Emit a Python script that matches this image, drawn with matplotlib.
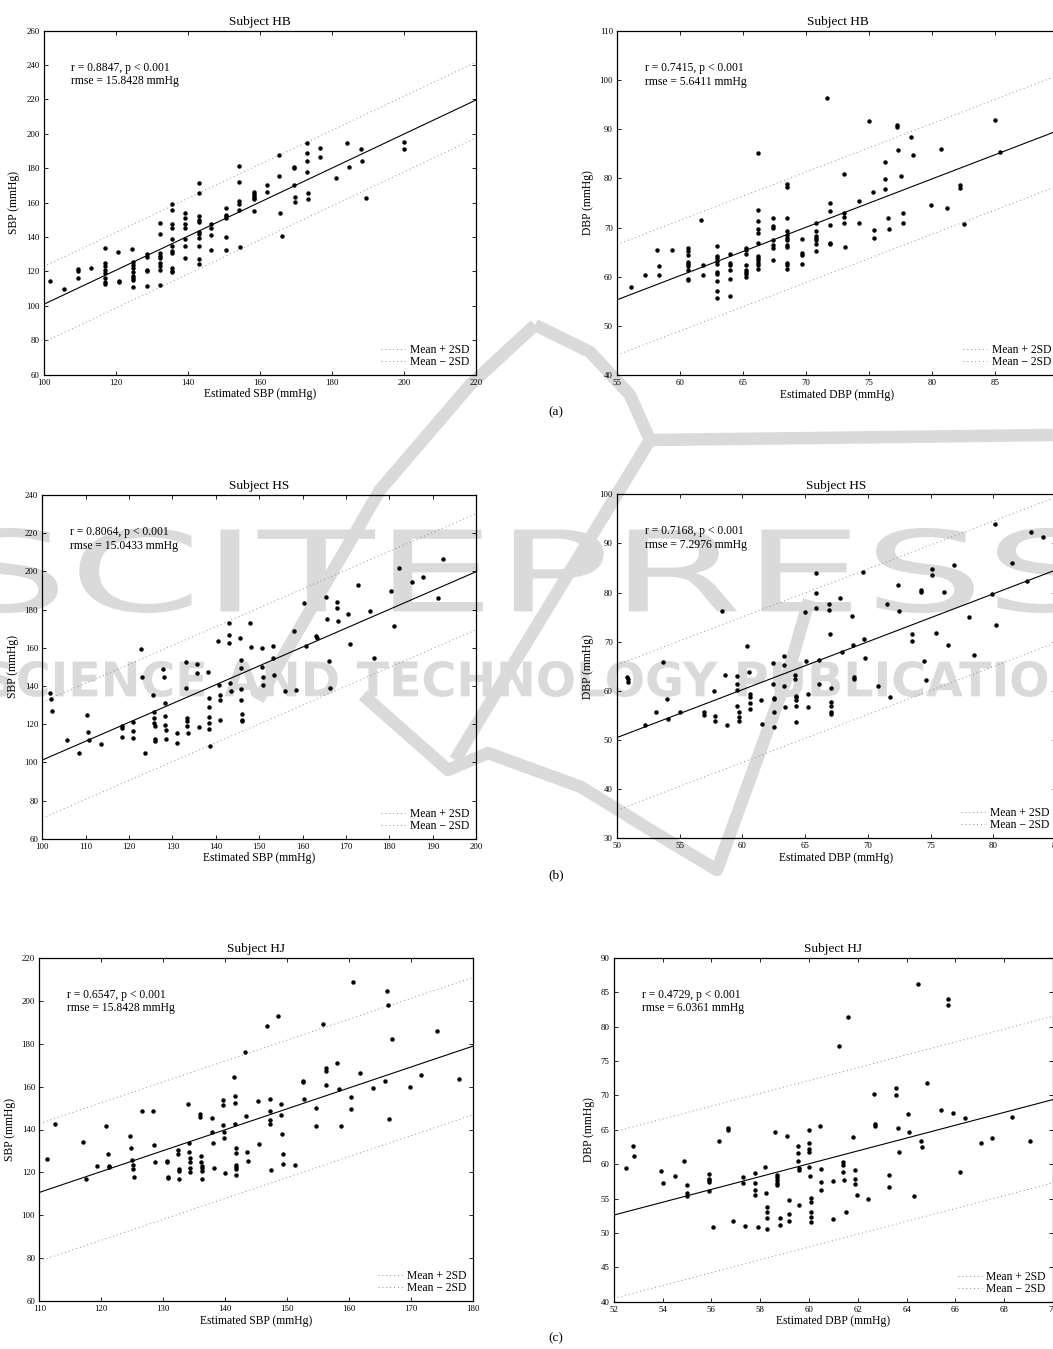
import numpy as np
import matplotlib
matplotlib.use("Agg")
import matplotlib.pyplot as plt
from matplotlib.textpath import TextPath
from matplotlib.patches import PathPatch
from matplotlib.path import Path
from matplotlib.font_manager import FontProperties

plt.rcParams['font.family'] = ['Liberation Serif', 'DejaVu Serif']

hb_sbp = [(101.8, 114.5), (105.7, 110.0), (109.4, 121.6), (109.4, 120.1), (109.4, 116.0), (113.2, 121.8),
          (117.0, 133.4), (117.0, 125.2), (117.0, 123.0), (117.0, 121.0), (117.0, 119.0), (117.0, 116.0),
          (117.0, 114.0), (117.0, 112.5), (120.7, 131.3), (121.0, 114.5), (121.0, 113.7),
          (124.6, 133.3), (124.7, 125.7), (124.7, 123.8), (124.7, 121.8), (124.7, 119.9), (124.7, 117.6),
          (124.7, 116.0), (124.7, 115.0), (124.7, 111.0),
          (128.7, 130.0), (128.7, 128.5), (128.7, 121.0), (128.7, 120.5), (128.7, 111.5),
          (132.2, 148.0), (132.2, 142.0), (132.2, 131.0), (132.2, 129.0), (132.2, 127.8), (132.2, 125.0),
          (132.2, 123.0), (132.2, 121.0), (132.2, 112.0),
          (135.7, 159.0), (135.7, 156.0), (135.7, 147.5), (135.7, 145.5), (135.7, 139.0), (135.7, 135.0),
          (135.7, 132.0), (135.7, 130.5), (135.7, 122.0), (135.7, 120.5), (135.7, 119.6),
          (139.2, 154.0), (139.2, 151.0), (139.2, 147.5), (139.2, 145.5), (139.2, 139.0), (139.2, 135.0),
          (139.2, 128.0),
          (143.0, 171.5), (143.0, 165.5), (143.0, 152.5), (143.0, 150.0), (143.0, 149.0), (143.0, 143.0),
          (143.0, 142.0), (143.0, 139.5), (143.0, 135.0), (143.0, 127.0), (143.0, 124.5),
          (146.5, 147.5), (146.5, 145.0), (146.5, 141.0), (146.5, 132.5),
          (150.6, 157.0), (150.6, 153.0), (150.6, 152.0), (150.6, 151.0), (150.6, 140.0), (150.6, 132.5),
          (154.2, 181.5), (154.2, 172.0), (154.2, 161.0), (154.2, 159.0), (154.2, 156.0), (154.6, 134.5),
          (158.3, 166.5), (158.3, 165.0), (158.3, 164.0), (158.3, 163.0), (158.3, 162.0), (158.3, 155.0),
          (162.0, 170.5), (162.0, 166.5),
          (165.4, 188.0), (165.4, 175.5), (165.6, 154.0), (166.2, 140.5),
          (169.5, 181.0), (169.5, 180.0), (169.5, 170.5), (169.7, 163.5), (169.7, 160.5),
          (173.0, 194.5), (173.0, 189.0), (173.2, 184.0), (173.2, 178.0), (173.4, 165.5), (173.4, 162.0),
          (176.8, 192.0), (176.8, 186.5), (181.2, 174.5), (184.2, 194.5), (184.8, 181.0), (188.0, 191.0),
          (188.4, 184.0), (189.5, 162.5), (200.0, 195.0), (200.0, 191.0)]

hb_dbp = [(56.1, 58.0), (57.2, 60.3), (58.2, 65.5), (58.3, 62.2), (58.35, 60.3), (59.4, 65.5),
          (60.6, 65.9), (60.6, 65.2), (60.6, 64.4), (60.6, 63.0), (60.6, 62.6), (60.6, 62.1), (60.6, 61.4),
          (60.6, 59.6), (60.6, 59.4), (61.7, 71.6), (61.8, 62.3), (61.8, 60.3),
          (62.9, 66.2), (62.9, 64.3), (62.9, 63.9), (62.9, 63.2), (62.9, 62.6), (62.9, 60.9), (62.9, 60.6),
          (62.9, 59.1), (62.9, 57.1), (62.9, 55.6),
          (64.0, 64.6), (64.0, 62.8), (64.0, 62.3), (64.0, 61.3), (64.0, 59.5), (64.0, 56.1),
          (65.2, 65.9), (65.2, 65.4), (65.2, 64.7), (65.2, 62.3), (65.2, 61.4), (65.2, 60.9), (65.2, 60.5),
          (65.2, 59.9),
          (66.2, 85.1), (66.2, 73.5), (66.2, 71.4), (66.2, 69.8), (66.2, 68.9), (66.2, 66.8), (66.2, 64.3),
          (66.2, 63.9), (66.2, 63.4), (66.2, 62.8), (66.2, 62.3), (66.2, 61.5),
          (67.4, 71.9), (67.4, 70.3), (67.4, 70.0), (67.4, 67.5), (67.4, 66.4), (67.4, 65.8), (67.4, 63.5),
          (68.5, 78.8), (68.5, 78.2), (68.5, 71.9), (68.5, 69.4), (68.5, 68.4), (68.5, 67.8), (68.5, 67.4),
          (68.5, 66.5), (68.5, 66.1), (68.5, 62.8), (68.5, 62.4), (68.5, 61.6),
          (69.7, 67.7), (69.7, 64.8), (69.7, 64.4), (69.7, 62.6),
          (70.8, 71.0), (70.8, 69.3), (70.8, 68.3), (70.8, 67.8), (70.8, 67.5), (70.8, 66.6), (70.8, 65.3),
          (71.7, 96.4), (71.9, 74.9), (71.9, 73.3), (71.9, 70.6), (71.9, 66.8), (71.9, 66.7),
          (73.0, 80.8), (73.0, 72.9), (73.0, 72.2), (73.0, 71.0), (73.1, 66.0),
          (74.2, 75.4), (74.2, 71.0), (75.0, 91.6), (75.3, 77.3), (75.4, 69.6), (75.4, 67.8),
          (76.3, 83.4), (76.3, 79.9), (76.3, 77.9), (76.5, 71.9), (76.6, 69.7), (77.2, 90.8), (77.2, 90.4),
          (77.3, 85.7), (77.5, 80.4), (77.7, 72.9), (77.7, 71.0), (78.3, 88.5), (78.5, 84.7), (79.9, 74.5),
          (80.7, 85.9), (81.2, 73.9), (82.2, 78.7), (82.2, 78.0), (82.5, 70.8), (85.0, 91.9), (85.4, 85.3)]

hs_sbp = [(101.8, 136.5), (102.0, 133.0), (102.3, 126.9), (105.6, 111.5), (108.5, 105.0), (110.4, 124.6),
          (110.6, 115.9), (110.8, 111.7), (113.5, 109.4), (118.3, 119.0), (118.4, 117.8), (118.4, 113.1),
          (120.8, 121.3), (120.9, 116.4), (121.0, 112.7), (122.7, 159.2), (122.9, 144.8), (123.7, 105.0),
          (125.6, 135.1), (125.7, 126.3), (125.8, 123.2), (125.8, 120.4), (125.9, 119.0), (126.0, 112.4),
          (126.1, 111.2), (127.9, 149.0), (128.0, 144.8), (128.2, 131.1), (128.4, 124.1), (128.4, 119.5),
          (128.5, 116.7), (128.6, 112.2), (131.0, 115.5), (131.1, 110.1),
          (133.1, 152.7), (133.2, 138.7), (133.4, 123.2), (133.4, 121.5), (133.4, 119.0), (133.5, 115.3),
          (135.6, 151.3), (135.7, 146.8), (136.1, 118.7),
          (138.2, 147.3), (138.4, 133.8), (138.4, 129.1), (138.4, 123.9), (138.4, 120.4), (138.4, 117.3),
          (138.6, 108.7), (140.6, 163.5), (140.8, 140.5), (140.9, 135.2), (140.9, 132.8), (141.0, 122.0),
          (143.0, 173.0), (143.0, 166.8), (143.0, 162.7), (143.3, 141.5), (143.4, 137.2),
          (145.6, 165.3), (145.7, 153.6), (145.8, 149.4), (145.9, 138.2), (145.9, 132.8), (146.0, 125.1),
          (146.0, 122.3), (146.0, 121.5), (148.0, 173.0), (148.2, 160.4),
          (150.7, 159.7), (150.7, 149.9), (150.9, 144.8), (150.9, 140.7),
          (153.2, 160.7), (153.3, 154.4), (153.4, 145.9), (156.0, 137.5), (158.1, 168.8), (158.6, 137.9),
          (160.3, 183.3), (160.7, 161.1), (163.2, 166.0), (163.3, 164.9),
          (165.3, 186.4), (165.6, 175.0), (166.0, 153.1), (166.3, 138.7), (167.9, 183.8), (167.9, 181.0),
          (168.1, 174.2), (170.5, 177.5), (170.9, 162.1), (172.7, 193.0), (175.5, 179.4), (176.5, 154.8),
          (180.4, 189.7), (181.2, 171.2), (182.3, 201.9), (185.3, 194.4), (187.7, 196.9), (191.2, 185.9),
          (192.3, 206.3)]

hs_dbp = [(50.8, 62.8), (50.85, 62.4), (50.9, 61.9), (52.2, 53.1), (53.1, 55.8), (53.7, 65.8), (54.0, 58.4),
          (54.1, 54.3), (55.0, 55.6), (56.9, 55.6), (56.9, 55.0), (57.7, 59.9), (57.8, 54.8), (57.8, 53.9),
          (58.4, 76.3), (58.6, 63.3), (58.8, 53.0),
          (59.6, 63.0), (59.6, 61.3), (59.6, 60.2), (59.6, 56.9), (59.7, 55.6), (59.7, 54.6), (59.7, 53.9),
          (60.4, 69.2), (60.5, 63.8), (60.6, 59.4), (60.6, 58.8), (60.6, 57.5), (60.6, 56.3),
          (61.5, 58.1), (61.6, 53.3), (62.4, 65.6), (62.4, 61.3), (62.5, 58.6), (62.5, 58.3), (62.5, 55.6),
          (62.5, 52.6), (63.3, 67.1), (63.3, 65.2), (63.3, 61.0), (63.4, 56.7),
          (64.2, 63.3), (64.2, 62.5), (64.3, 59.0), (64.3, 58.7), (64.3, 58.1), (64.3, 56.9), (64.3, 53.7),
          (65.0, 76.0), (65.1, 66.1), (65.2, 59.3), (65.2, 56.7),
          (65.9, 83.9), (65.9, 79.9), (65.9, 76.9), (66.1, 66.3), (66.1, 61.5),
          (66.9, 77.6), (66.9, 76.5), (66.95, 71.5), (67.1, 60.6), (67.1, 57.7), (67.1, 56.9), (67.1, 55.6),
          (67.1, 55.2), (67.8, 78.9), (67.9, 67.9), (68.7, 75.2), (68.8, 69.4), (68.9, 62.9), (68.9, 62.5),
          (69.6, 84.1), (69.7, 70.6), (69.8, 66.6), (70.8, 61.0), (71.5, 77.7), (71.8, 58.8), (72.4, 81.5),
          (72.5, 76.2), (73.5, 71.6), (73.5, 70.2), (74.2, 80.5), (74.2, 80.1), (74.5, 66.0), (74.6, 62.2),
          (75.1, 84.7), (75.1, 83.5), (75.4, 71.8), (76.1, 80.2), (76.4, 69.3), (76.9, 85.6), (78.1, 75.1),
          (78.5, 67.4), (79.9, 79.7), (80.1, 93.9), (80.2, 73.5), (81.5, 86.0), (82.7, 82.4), (83.0, 92.3),
          (84.0, 91.4)]

hj_sbp = [(111.3, 126.3), (112.6, 142.7), (117.0, 134.2), (117.6, 117.1), (119.3, 123.2), (120.7, 141.5),
          (121.0, 128.4), (121.2, 123.2), (121.2, 122.5),
          (124.7, 137.0), (124.8, 131.4), (124.9, 126.0), (125.05, 123.5), (125.05, 121.5), (125.2, 117.9),
          (126.5, 148.6), (128.3, 148.6), (128.5, 132.9), (128.7, 124.7),
          (130.6, 125.2), (130.6, 124.9), (130.7, 117.9), (130.75, 117.3),
          (132.4, 130.6), (132.4, 128.4), (132.5, 121.5), (132.5, 120.7), (132.6, 117.0),
          (134.0, 151.7), (134.2, 133.9), (134.2, 129.5), (134.3, 126.6), (134.3, 124.9), (134.35, 122.2),
          (134.35, 120.4),
          (135.9, 147.2), (135.95, 145.8), (136.1, 127.5), (136.1, 125.0), (136.2, 123.0), (136.2, 122.2),
          (136.2, 120.7), (136.3, 117.0),
          (137.8, 145.5), (137.9, 138.8), (137.96, 133.9), (138.1, 121.9),
          (139.7, 153.7), (139.7, 151.4), (139.7, 141.9), (139.8, 138.8), (139.8, 136.2), (140.0, 119.7),
          (141.45, 164.4), (141.5, 155.4), (141.5, 152.2), (141.6, 142.4), (141.7, 131.5), (141.7, 129.2),
          (141.7, 123.5), (141.8, 122.7), (141.8, 121.5), (141.8, 119.0),
          (143.2, 175.9), (143.4, 146.3), (143.5, 129.7), (143.6, 125.3),
          (145.2, 153.4), (145.4, 133.2), (146.7, 188.3), (147.2, 154.2), (147.2, 148.5), (147.2, 144.4),
          (147.2, 142.4), (147.4, 121.0), (148.5, 192.7), (149.0, 151.7), (149.0, 146.7), (149.1, 137.7),
          (149.3, 128.7), (149.3, 123.8), (151.2, 123.6),
          (152.5, 162.7), (152.6, 162.3), (152.7, 154.0), (154.6, 150.2), (154.7, 141.6), (155.75, 189.1),
          (156.2, 168.8), (156.2, 167.2), (156.3, 160.6), (158.0, 170.8), (158.3, 158.9), (158.6, 141.6),
          (160.2, 155.3), (160.3, 149.5), (160.6, 208.7), (161.8, 166.3), (163.9, 159.2), (165.75, 162.7),
          (166.0, 204.3), (166.3, 198.0), (166.45, 145.0), (166.9, 182.0), (169.8, 159.8), (171.5, 165.2),
          (174.2, 185.9), (177.7, 163.7)]

hj_dbp = [(52.5, 59.5), (52.8, 62.6), (52.85, 61.2), (53.95, 59.0), (54.0, 57.3), (54.5, 58.2), (54.9, 60.5),
          (55.0, 57.0), (55.0, 55.8), (55.0, 55.3),
          (55.9, 58.6), (55.9, 57.9), (55.9, 57.7), (55.9, 57.4), (55.9, 56.1), (56.05, 50.8), (56.3, 63.3),
          (56.7, 65.2), (56.7, 65.0), (56.9, 51.7), (57.3, 58.1), (57.3, 57.3), (57.4, 51.0),
          (57.8, 58.7), (57.8, 57.3), (57.8, 56.2), (57.8, 55.5), (57.9, 50.9),
          (58.2, 59.6), (58.25, 55.8), (58.3, 53.8), (58.3, 53.0), (58.3, 52.1), (58.3, 50.5),
          (58.6, 64.6), (58.7, 58.4), (58.7, 58.1), (58.7, 57.7), (58.7, 57.3), (58.7, 56.9), (58.8, 52.1),
          (58.8, 51.1), (59.1, 64.1), (59.2, 54.8), (59.2, 52.7), (59.2, 51.7),
          (59.55, 62.6), (59.55, 61.6), (59.55, 60.4), (59.6, 59.5), (59.6, 59.1), (59.6, 54.0),
          (60.0, 65.0), (60.0, 63.0), (60.0, 62.2), (60.0, 61.7), (60.0, 59.6), (60.05, 58.2), (60.1, 55.1),
          (60.1, 54.5), (60.1, 53.1), (60.1, 52.3), (60.1, 51.6),
          (60.45, 65.6), (60.5, 59.3), (60.5, 57.4), (60.5, 56.3), (61.0, 57.6), (61.0, 52.0), (61.25, 77.2),
          (61.4, 60.3), (61.4, 59.8), (61.4, 58.9), (61.45, 57.7), (61.5, 53.0), (61.6, 81.4),
          (61.8, 64.0), (61.9, 59.1), (61.9, 57.8), (61.9, 57.1), (61.95, 55.5), (62.4, 55.0),
          (62.65, 70.2), (62.7, 65.8), (62.7, 65.5), (63.3, 58.4), (63.3, 56.7), (63.55, 71.1), (63.55, 70.1),
          (63.65, 65.2), (63.7, 61.8), (64.05, 67.3), (64.1, 64.7), (64.3, 55.3), (64.45, 86.2), (64.6, 63.4),
          (64.65, 62.5), (64.85, 71.8), (65.4, 67.9), (65.7, 84.0), (65.7, 83.1), (65.9, 67.4), (66.2, 58.8),
          (66.4, 66.7), (67.05, 63.0), (67.5, 63.8), (68.3, 66.9), (69.05, 63.4)]

# line y = a + b*x and the 2SD half-width
fits = [(1.9, 0.99, 22.0), (1.18, 0.984, 11.25),
        (2.6, 0.986, 30.4), (1.75, 0.975, 14.8),
        (3.56, 0.974, 32.0), (4.07, 0.933, 12.1)]

stats = [("r = 0.8847, p < 0.001", "rmse = 15.8428 mmHg"),
         ("r = 0.7415, p < 0.001", "rmse = 5.6411 mmHg"),
         ("r = 0.8064, p < 0.001", "rmse = 15.0433 mmHg"),
         ("r = 0.7168, p < 0.001", "rmse = 7.2976 mmHg"),
         ("r = 0.6547, p < 0.001", "rmse = 15.8428 mmHg"),
         ("r = 0.4729, p < 0.001", "rmse = 6.0361 mmHg")]

titles = ["Subject HB", "Subject HB", "Subject HS", "Subject HS", "Subject HJ", "Subject HJ"]
xlabels = ["Estimated SBP (mmHg)", "Estimated DBP (mmHg)"] * 3
ylabels = ["SBP (mmHg)", "DBP (mmHg)"] * 3
xlims = [(100, 220), (55, 90), (100, 200), (50, 85), (110, 180), (52, 70)]
ylims = [(60, 260), (40, 110), (60, 240), (30, 100), (60, 220), (40, 90)]
xsteps = [20, 5, 10, 5, 10, 2]
ysteps = [20, 10, 20, 10, 20, 5]
datasets = [hb_sbp, hb_dbp, hs_sbp, hs_dbp, hj_sbp, hj_dbp]
sublabels = ["(a)", "(b)", "(c)"]

# ---- layout (pixels, from the top-left) ----
W, H = 1053, 1349
boxes = [(43.7, 476, 30.7, 374.7), (617, 1058, 31, 375),
         (42.3, 476, 495, 838.7), (617, 1056, 494.3, 838.3),
         (39.3, 473.3, 957.7, 1301.3), (613.7, 1053, 957.7, 1301.7)]
sublabel_y = [412, 875, 1338]

fig = plt.figure(figsize=(W / 100, H / 100), dpi=100)

# faint publisher watermark behind the panels
bg = fig.add_axes([0, 0, 1, 1], zorder=0)
bg.set_xlim(0, W)
bg.set_ylim(H, 0)
bg.axis('off')
wm = '#dadada'


def wordmark(text, x0, x1, ytop, ybot, weight):
    tp = TextPath((0, 0), text, size=100, prop=FontProperties(family='DejaVu Sans', weight=weight))
    ext = tp.get_extents()
    v = tp.vertices.copy()
    v[:, 0] = x0 + (v[:, 0] - ext.x0) / ext.width * (x1 - x0)
    v[:, 1] = ybot - (v[:, 1] - ext.y0) / ext.height * (ybot - ytop)
    bg.add_patch(PathPatch(Path(v, tp.codes), fc=wm, ec='none'))


wordmark("SCITEPRESS", -40, 1095, 528, 613, 'normal')
wordmark("SCIENCE AND TECHNOLOGY PUBLICATIONS", -15, 1120, 661, 697, 'bold')
strokes = [([258, 380, 470, 535], [700, 490, 385, 325]),
           ([535, 590, 630, 650], [325, 352, 395, 440]),
           ([650, 1053], [440, 435]),
           ([650, 455], [440, 760]),
           ([363, 448, 488, 581, 662, 717, 787, 809], [695, 770, 753, 787, 837, 870, 677, 600])]
for sx, sy in strokes:
    bg.plot(sx, sy, color=wm, lw=9, solid_capstyle='butt', solid_joinstyle='round')

for i in range(6):
    l, r, t, b = boxes[i]
    ax = fig.add_axes([l / W, 1 - b / H, (r - l) / W, (b - t) / H], zorder=1)
    ax.set_facecolor('none')
    est, ref = np.array(datasets[i]).T
    a, s, band = fits[i]
    xs = np.array(xlims[i], dtype=float)
    ax.plot(xs, a + s * xs, color='k', lw=0.8)
    ax.plot(xs, a + s * xs + band, color='0.55', lw=0.7, ls=(0, (1, 3)), label='Mean + 2SD')
    ax.plot(xs, a + s * xs - band, color='0.55', lw=0.7, ls=(0, (1, 3)), label='Mean \u2212 2SD')
    ax.plot(est, ref, 'o', color='k', ms=3.2, mew=0)
    ax.set_xlim(xlims[i])
    ax.set_ylim(ylims[i])
    ax.set_xticks(np.arange(xlims[i][0], xlims[i][1] + 0.1, xsteps[i]))
    ax.set_yticks(np.arange(ylims[i][0], ylims[i][1] + 0.1, ysteps[i]))
    ax.tick_params(direction='in', top=True, right=True, length=3, width=0.6, labelsize=6.3, pad=3)
    for sp in ax.spines.values():
        sp.set_linewidth(0.9)
    ax.set_title(titles[i], fontsize=9.5, pad=4)
    ax.set_xlabel(xlabels[i], fontsize=8.4, labelpad=1)
    ax.set_ylabel(ylabels[i], fontsize=8.4, labelpad=4)
    ax.text(0.064, 0.892, stats[i][0], transform=ax.transAxes, fontsize=8.4, va='center')
    ax.text(0.064, 0.853, stats[i][1], transform=ax.transAxes, fontsize=8.4, va='center')
    ax.legend(loc='lower right', frameon=False, fontsize=8.4, handlelength=2.1,
              handletextpad=0.35, labelspacing=0.0, borderaxespad=0.2, borderpad=0.4)

for k in range(3):
    fig.text(556 / W, 1 - sublabel_y[k] / H, sublabels[k], ha='center', va='center', fontsize=9.5)

fig.savefig("out.png", dpi=100)
